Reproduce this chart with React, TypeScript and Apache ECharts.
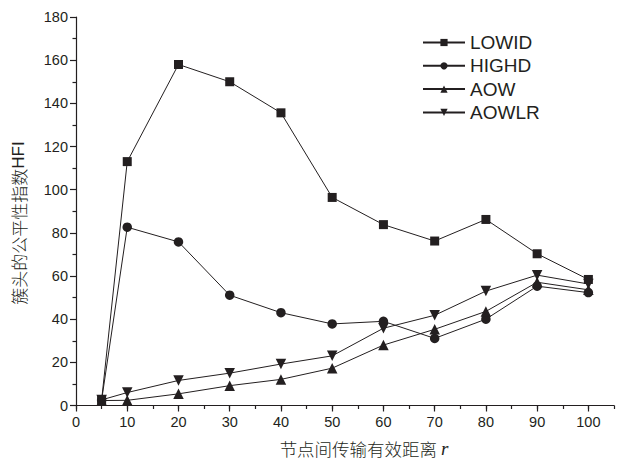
import React, { useEffect, useRef } from "react";
import * as echarts from "echarts";

const xValues = [5, 10, 20, 30, 40, 50, 60, 70, 80, 90, 100];
const lowid = [2.5, 113, 158, 150, 135.6, 96.4, 83.8, 76.2, 86.2, 70.3, 58.4];
const highd = [2.5, 82.6, 75.8, 51.1, 43, 37.8, 39, 31.1, 40, 55.3, 52.3];
const aow = [2.3, 2.4, 5.4, 9.2, 12.1, 17.3, 28, 35.3, 43.6, 57.1, 53.6];
const aowlr = [2.6, 6, 11.6, 15, 19.2, 23, 35.8, 41.8, 53, 60.4, 56.3];
const xTicks = [0, 10, 20, 30, 40, 50, 60, 70, 80, 90, 100];
const seriesNames = ["LOWID", "HIGHD", "AOW", "AOWLR"];

const INK = "#231f20";

export default function App() {
  const ref = useRef<HTMLDivElement>(null);
  useEffect(() => {
    if (!ref.current) return;
    const chart = echarts.init(ref.current, undefined, { renderer: "svg" });
    const mk = (name: string, vals: number[], symbol: string, size: number, rotate = 0) => ({
      name,
      type: "line",
      xAxisIndex: 0,
      yAxisIndex: 0,
      data: xValues.map((x, i) => [x, vals[i]]),
      symbol,
      symbolSize: size,
      symbolRotate: rotate,
      showAllSymbol: true,
      lineStyle: { color: INK, width: 1 },
      itemStyle: { color: INK, borderWidth: 0 },
      emphasis: { disabled: true },
    });
    chart.setOption({
      animation: false,
      backgroundColor: "#ffffff",
      grid: { left: 76, right: 3, top: 17, bottom: 55.5, containLabel: false },
      legend: {
        orient: "vertical",
        left: 422,
        top: 33,
        padding: 0,
        itemWidth: 42,
        itemHeight: 9,
        itemGap: 4.3,
        data: seriesNames,
        textStyle: {
          color: INK,
          fontSize: 19,
          lineHeight: 19,
          fontFamily: "Liberation Sans, Arial, sans-serif",
        },
      },
      xAxis: [
        {
          type: "value",
          min: 0,
          max: 105,
          interval: 10,
          position: "bottom",
          axisLine: { show: true, lineStyle: { color: INK, width: 1.2 } },
          axisTick: {
            show: true,
            inside: false,
            length: 6,
            lineStyle: { color: INK, width: 1.2 },
            customValues: xTicks,
          },
          axisLabel: {
            color: INK,
            fontSize: 14.5,
            margin: 9,
            fontFamily: "Liberation Sans, Arial, sans-serif",
            customValues: xTicks,
            formatter: (v: number) => (v > 100 ? "" : String(v)),
          },
          splitLine: { show: false },
        },
        {
          type: "value",
          min: 0,
          max: 105,
          interval: 5,
          position: "bottom",
          axisLine: { show: false },
          axisTick: { show: true, inside: false, length: 3.5, lineStyle: { color: INK, width: 1.2 } },
          axisLabel: { show: false },
          splitLine: { show: false },
        },
      ],
      yAxis: {
        type: "value",
        min: 0,
        max: 180,
        interval: 20,
        axisLine: { show: true, lineStyle: { color: INK, width: 1.2 } },
        axisTick: { show: true, inside: false, length: 6, lineStyle: { color: INK, width: 1.2 } },
        minorTick: { show: true, splitNumber: 2, length: 3.5, lineStyle: { color: INK, width: 1.2 } },
        axisLabel: {
          color: INK,
          fontSize: 14.5,
          margin: 8,
          fontFamily: "Liberation Sans, Arial, sans-serif",
        },
        splitLine: { show: false },
      },
      graphic: [
        {
          type: "text",
          x: 364,
          y: 448,
          style: {
            text: "{a|节点间传输有效距离 }{b|r}",
            textAlign: "center",
            textVerticalAlign: "middle",
            rich: {
              a: {
                fontSize: 17.5,
                lineHeight: 18,
                fill: INK,
                fontFamily: "Noto Sans CJK SC",
                fontWeight: 300,
              },
              b: {
                fontSize: 19,
                lineHeight: 18,
                fill: INK,
                fontFamily: "Liberation Serif, DejaVu Serif, serif",
                fontStyle: "italic",
              },
            },
          },
        },
        {
          type: "text",
          x: 18,
          y: 223,
          rotation: Math.PI / 2,
          style: {
            text: "{a|簇头的公平性指数}{b|HFI}",
            textAlign: "center",
            textVerticalAlign: "middle",
            rich: {
              a: { fontSize: 17, lineHeight: 18, fill: INK, fontFamily: "Noto Sans CJK SC", fontWeight: 300 },
              b: { fontSize: 17, lineHeight: 18, fill: INK, fontFamily: "Liberation Sans, Arial, sans-serif" },
            },
          },
        },
      ],
      series: [
        mk("LOWID", lowid, "rect", 9),
        mk("HIGHD", highd, "circle", 9.5),
        mk("AOW", aow, "triangle", 10.5),
        mk("AOWLR", aowlr, "triangle", 10.5, 180),
      ],
    });
    return () => chart.dispose();
  }, []);
  return (
    <div
      ref={ref}
      style={{ position: "fixed", left: 0, top: 0, width: 617, height: 461, background: "#fff" }}
    />
  );
}
